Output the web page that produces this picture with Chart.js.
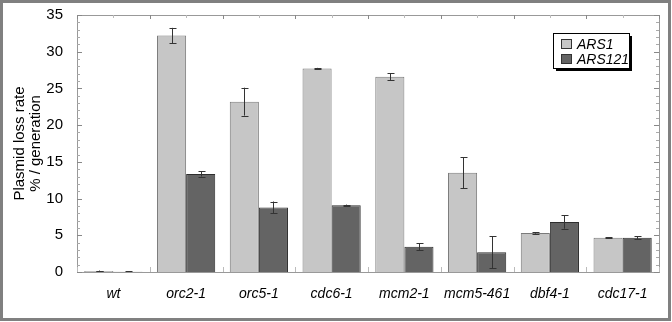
<!DOCTYPE html>
<html>
<head>
<meta charset="utf-8">
<script src="https://cdn.jsdelivr.net/npm/chart.js@4"></script>
<style>
	html, body { margin: 0; padding: 0; background: #fff; }
	#wrap { width: 672px; height: 322px; }
</style>
</head>
<body>
<div id="wrap"><canvas id="chart" width="672" height="322"></canvas></div>
<script>
const strains = ["wt", "orc2-1", "orc5-1", "cdc6-1", "mcm2-1", "mcm5-461", "dbf4-1", "cdc17-1"];
const ars1 = [0.15, 32.2, 23.2, 27.7, 26.6, 13.5, 5.3, 4.65];
const ars1Err = [0.05, 1.05, 1.9, 0.1, 0.45, 2.1, 0.08, 0.08];
const ars121 = [0.05, 13.35, 8.8, 9.1, 3.45, 2.7, 6.8, 4.65];
const ars121Err = [0.02, 0.35, 0.8, 0.08, 0.45, 2.2, 0.9, 0.2];
const yTicks = [0, 5, 10, 15, 20, 25, 30, 35];

const font = "'Liberation Sans', Arial, sans-serif";

// error bars, tick marks, frame and the boxed legend
const extras = {
	id: "extras",
	beforeDraw: (chart) => {
		const ctx = chart.ctx;
		ctx.save();
		ctx.fillStyle = "#fff";
		ctx.fillRect(0, 0, chart.width, chart.height);
		ctx.restore();
	},
	afterDatasetsDraw: (chart) => {
		const ctx = chart.ctx;
		const y = chart.scales.y;
		const errs = [ars1Err, ars121Err];
		const vals = [ars1, ars121];
		ctx.save();
		ctx.strokeStyle = "#333";
		ctx.lineWidth = 1;
		errs.forEach((err, i) => {
			chart.getDatasetMeta(i).data.forEach((bar, j) => {
				const x = Math.round(bar.x) + 0.5;
				const top = y.getPixelForValue(vals[i][j] + err[j]);
				const bot = y.getPixelForValue(Math.max(0, vals[i][j] - err[j]));
				ctx.beginPath();
				ctx.moveTo(x, top);
				ctx.lineTo(x, bot);
				ctx.moveTo(x - 3, Math.round(top) + 0.5);
				ctx.lineTo(x + 4, Math.round(top) + 0.5);
				ctx.moveTo(x - 3, Math.round(bot) + 0.5);
				ctx.lineTo(x + 4, Math.round(bot) + 0.5);
				ctx.stroke();
			});
		});
		ctx.restore();
	},
	afterDraw: (chart) => {
		const ctx = chart.ctx;
		const a = chart.chartArea;
		const y = chart.scales.y;
		const x = chart.scales.x;
		ctx.save();
		ctx.lineWidth = 1;

		// plot frame
		ctx.strokeStyle = "#999";
		ctx.strokeRect(Math.round(a.left) + 0.5, Math.round(a.top) + 0.5, Math.round(a.right - a.left), Math.round(a.bottom - a.top));

		// y minor/major ticks, both sides
		for (let v = 0; v <= 35; v++) {
			const py = Math.round(y.getPixelForValue(v)) + 0.5;
			const major = v % 5 == 0;
			const len = major ? 5 : 3;
			ctx.strokeStyle = major ? "#888" : "#aaa";
			ctx.beginPath();
			ctx.moveTo(a.left, py);
			ctx.lineTo(a.left + len, py);
			ctx.moveTo(a.right, py);
			ctx.lineTo(a.right - len, py);
			ctx.stroke();
		}

		// x ticks at category boundaries and centres
		const step = (a.right - a.left) / strains.length;
		for (let i = 0; i <= strains.length; i++) {
			const px = Math.round(a.left + i * step) + 0.5;
			ctx.strokeStyle = "#888";
			ctx.beginPath();
			ctx.moveTo(px, a.top);
			ctx.lineTo(px, a.top + 4);
			ctx.stroke();
			ctx.strokeStyle = "#bbb";
			ctx.beginPath();
			ctx.moveTo(px, a.bottom);
			ctx.lineTo(px, a.bottom - 5);
			ctx.stroke();
			if (i < strains.length) {
				const cx = Math.round(x.getPixelForValue(i)) + 0.5;
				ctx.strokeStyle = "#bbb";
				ctx.beginPath();
				ctx.moveTo(cx, a.top);
				ctx.lineTo(cx, a.top + 3);
				ctx.stroke();
			}
		}

		// legend box with drop shadow
		const lx = 553, ly = 33, lw = 76, lh = 35;
		ctx.fillStyle = "#000";
		ctx.fillRect(lx + 3, ly + 3, lw, lh);
		ctx.fillStyle = "#fff";
		ctx.fillRect(lx, ly, lw, lh);
		ctx.strokeStyle = "#000";
		ctx.strokeRect(lx + 0.5, ly + 0.5, lw, lh);
		const items = [["ARS1", "#c6c6c6"], ["ARS121", "#646464"]];
		ctx.font = "italic 14px " + font;
		ctx.textBaseline = "middle";
		items.forEach((it, i) => {
			const sy = ly + 6 + i * 15;
			ctx.fillStyle = it[1];
			ctx.fillRect(lx + 8, sy, 11, 10);
			ctx.strokeStyle = "#333";
			ctx.strokeRect(lx + 8.5, sy + 0.5, 10, 9);
			ctx.fillStyle = "#000";
			ctx.fillText(it[0], lx + 24, sy + 6);
		});

		// outer border
		ctx.strokeStyle = "#808080";
		ctx.lineWidth = 3;
		ctx.strokeRect(1.5, 1.5, 668, 318);
		ctx.restore();
	}
};

new Chart(document.getElementById("chart"), {
	type: "bar",
	data: {
		labels: strains,
		datasets: [
			{
				label: "ARS1",
				data: ars1,
				backgroundColor: "#c6c6c6",
				borderColor: "#7a7a7a",
				borderWidth: 1,
				categoryPercentage: 0.8,
				barPercentage: 1
			},
			{
				label: "ARS121",
				data: ars121,
				backgroundColor: "#646464",
				borderColor: "#2e2e2e",
				borderWidth: 1,
				categoryPercentage: 0.8,
				barPercentage: 1
			}
		]
	},
	options: {
		responsive: false,
		animation: false,
		layout: {
			padding: { left: 0, right: 13, top: 15, bottom: 0 }
		},
		plugins: {
			legend: { display: false },
			tooltip: { enabled: false }
		},
		scales: {
			x: {
				grid: { display: false },
				border: { display: false },
				ticks: {
					color: "#000",
					padding: 6,
					font: { family: font, size: 14, style: "italic" },
					maxRotation: 0
				},
				afterFit: (scale) => {
					scale.height = 50;
				}
			},
			y: {
				min: 0,
				max: 35,
				afterBuildTicks: (scale) => {
					scale.ticks = yTicks.map((v) => ({ value: v }));
				},
				grid: { display: false },
				border: { display: false },
				ticks: {
					color: "#000",
					padding: 6,
					font: { family: font, size: 15 }
				},
				title: {
					display: true,
					text: ["Plasmid loss rate", "% / generation"],
					color: "#000",
					font: { family: font, size: 15, lineHeight: 1.07 },
					padding: { top: 12, bottom: 4 }
				},
				afterFit: (scale) => {
					scale.width = 77;
				}
			}
		}
	},
	plugins: [extras]
});
</script>
</body>
</html>
